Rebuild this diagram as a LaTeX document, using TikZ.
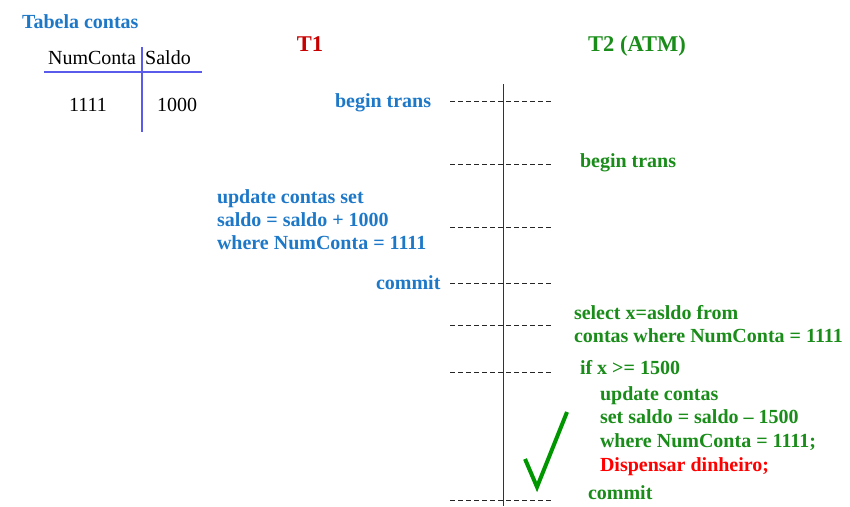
\documentclass[tikz,border=0pt]{standalone}
\usepackage{fontspec}
\setmainfont{Liberation Serif}
\begin{document}
\begin{tikzpicture}[x=1pt,y=-1pt,
  every node/.style={inner sep=0pt,outer sep=0pt},
  bl/.style={text=blueT,font=\fontsize{20}{22}\selectfont\bfseries,anchor=base west},
  gr/.style={text=greenT,font=\fontsize{20}{22}\selectfont\bfseries,anchor=base west},
  rd/.style={text=redD,font=\fontsize{20}{22}\selectfont\bfseries,anchor=base west},
  hdr/.style={font=\fontsize{22.5}{24}\selectfont\bfseries,anchor=base},
  plain/.style={text=black,font=\fontsize{20}{22}\selectfont,anchor=base},
  tick/.style={draw=black!85,dash pattern=on 5pt off 3pt,line width=0.8pt},
  tabline/.style={draw=tabC,line width=1.3pt}]
\definecolor{blueT}{RGB}{30,120,200}
\definecolor{greenT}{RGB}{25,140,25}
\definecolor{redT}{RGB}{200,0,0}
\definecolor{redD}{RGB}{255,0,0}
\definecolor{tabC}{RGB}{90,90,235}
\definecolor{checkC}{RGB}{0,150,0}
\useasboundingbox (0,0) rectangle (850,506);
% table
\node[bl] (tab) at (22,28) {Tabela contas};
\node[plain] (hnum) at (92,64) {NumConta};
\node[plain] (hsal) at (168,64) {Saldo};
\node[plain] (v1) at (88,111) {1111};
\node[plain] (v2) at (177,111) {1000};
\coordinate (hl1) at (44,72); \coordinate (hl2) at (202,72);
\coordinate (vl1) at (142,47); \coordinate (vl2) at (142,132);
\draw[tabline] (hl1) -- (hl2);
\draw[tabline] (vl1) -- (vl2);
% headers
\node[hdr,text=redT] (t1) at (310,51) {T1};
\node[hdr,text=greenT] (t2) at (637,51) {T2 (ATM)};
% timeline
\coordinate (top) at (503,84); \coordinate (bot) at (503,506);
\draw[black!80,line width=1pt] (top) -- (bot);
\foreach \yy/\nm in {101/a,164/b,227/c,283/d,325/e,372/f,500/g}{
  \coordinate (l\nm) at (450,\yy); \coordinate (r\nm) at (553,\yy);
  \draw[tick] (l\nm) -- (r\nm);
}
% T1
\node[bl] (b1) at (335,107) {begin trans};
\node[bl] (u1) at (217,203) {update contas set};
\node[bl] (u2) at (217,226) {saldo = saldo + 1000};
\node[bl] (u3) at (217,249) {where NumConta = 1111};
\node[bl] (c1) at (376,289) {commit};
% T2
\node[gr] (b2) at (580,167) {begin trans};
\node[gr] (s1) at (574,319) {select x=asldo from};
\node[gr] (s2) at (574,342) {contas where NumConta = 1111};
\node[gr] (i1) at (580,374) {if x >= 1500};
\node[gr] (i2) at (600,400) {update contas};
\node[gr] (i3) at (600,423) {set saldo = saldo – 1500};
\node[gr] (i4) at (600,447) {where NumConta = 1111;};
\node[rd] (i5) at (600,471) {Dispensar dinheiro;};
\node[gr] (c2) at (588,499) {commit};
% check mark
\coordinate (k1) at (525,459); \coordinate (k2) at (537,487); \coordinate (k3) at (567,412);
\draw[checkC,line width=4pt,line join=miter] (k1) -- (k2) -- (k3);
\end{tikzpicture}
\end{document}
